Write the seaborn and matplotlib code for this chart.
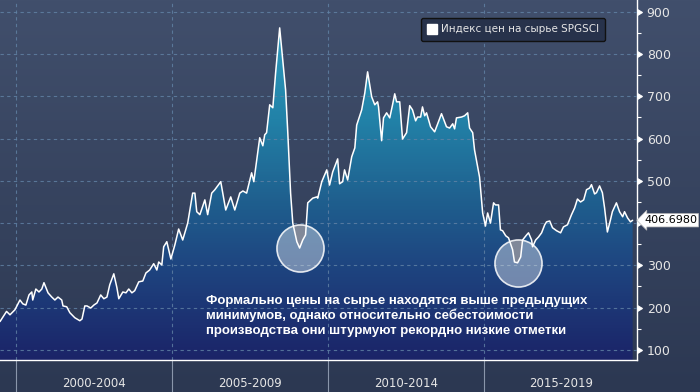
import numpy as np
import pandas as pd
import matplotlib
matplotlib.use("Agg")
import matplotlib.pyplot as plt
import matplotlib.markers as mmarkers
import seaborn as sns
from matplotlib.colors import LinearSegmentedColormap
from matplotlib.lines import Line2D

# SPGSCI index (decimal years)
years = [
    1999.49, 1999.70, 1999.81, 1999.97, 2000.13, 2000.22, 2000.32, 2000.42, 2000.51, 2000.54,
    2000.64, 2000.74, 2000.83, 2000.90, 2001.03, 2001.15, 2001.25, 2001.35, 2001.47, 2001.51,
    2001.63, 2001.73, 2001.89, 2002.05, 2002.12, 2002.21, 2002.28, 2002.40, 2002.50, 2002.60,
    2002.72, 2002.82, 2002.92, 2003.01, 2003.14, 2003.24, 2003.30, 2003.43, 2003.53, 2003.62,
    2003.72, 2003.81, 2003.94, 2004.07, 2004.17, 2004.29, 2004.42, 2004.52, 2004.58, 2004.68,
    2004.74, 2004.84, 2004.97, 2005.10, 2005.22, 2005.35, 2005.51, 2005.67, 2005.74, 2005.80,
    2005.90, 2006.06, 2006.15, 2006.28, 2006.38, 2006.57, 2006.73, 2006.89, 2007.02, 2007.18,
    2007.28, 2007.40, 2007.56, 2007.63, 2007.82, 2007.92, 2007.98, 2008.04, 2008.14, 2008.24,
    2008.33, 2008.46, 2008.56, 2008.65, 2008.72, 2008.81, 2008.88, 2009.01, 2009.10, 2009.20,
    2009.29, 2009.36, 2009.52, 2009.65, 2009.68, 2009.81, 2009.97, 2010.06, 2010.16, 2010.32,
    2010.38, 2010.48, 2010.54, 2010.64, 2010.77, 2010.87, 2010.93, 2011.09, 2011.19, 2011.28,
    2011.41, 2011.51, 2011.60, 2011.63, 2011.73, 2011.79, 2011.89, 2011.99, 2012.08, 2012.15,
    2012.21, 2012.31, 2012.40, 2012.53, 2012.63, 2012.72, 2012.82, 2012.88, 2012.98, 2013.04,
    2013.11, 2013.17, 2013.30, 2013.43, 2013.65, 2013.81, 2013.91, 2014.01, 2014.07, 2014.13,
    2014.29, 2014.39, 2014.49, 2014.55, 2014.65, 2014.71, 2014.87, 2014.97, 2015.06, 2015.13,
    2015.22, 2015.32, 2015.38, 2015.48, 2015.54, 2015.61, 2015.71, 2015.80, 2015.93, 2015.99,
    2016.09, 2016.19, 2016.25, 2016.38, 2016.44, 2016.54, 2016.57, 2016.67, 2016.76, 2016.86,
    2016.96, 2017.02, 2017.12, 2017.21, 2017.34, 2017.47, 2017.56, 2017.69, 2017.82, 2017.92,
    2018.01, 2018.11, 2018.21, 2018.30, 2018.40, 2018.46, 2018.56, 2018.62, 2018.72, 2018.81,
    2018.88, 2018.97, 2019.07, 2019.13, 2019.26, 2019.36, 2019.46, 2019.52, 2019.62, 2019.71,
    2019.78,
]
index_values = [
    167, 191, 183, 195, 218, 209, 206, 230, 237, 218,
    244, 237, 244, 259, 235, 225, 218, 225, 218, 204,
    202, 188, 176, 169, 173, 204, 204, 199, 206, 211,
    230, 221, 225, 254, 280, 247, 221, 237, 235, 244,
    235, 240, 261, 263, 282, 289, 304, 289, 308, 301,
    344, 356, 315, 349, 386, 360, 400, 471, 471, 427,
    420, 455, 420, 471, 479, 498, 431, 462, 431, 471,
    476, 471, 519, 498, 602, 583, 609, 614, 680, 673,
    756, 862, 786, 715, 614, 471, 400, 356, 341, 360,
    372, 448, 459, 462, 459, 498, 526, 490, 521, 552,
    493, 498, 526, 502, 557, 578, 632, 668, 708, 758,
    699, 680, 687, 675, 595, 649, 661, 649, 680, 706,
    687, 687, 599, 614, 678, 668, 642, 651, 651, 675,
    654, 661, 628, 616, 659, 628, 625, 635, 623, 649,
    651, 654, 661, 625, 614, 573, 509, 424, 393, 424,
    400, 448, 443, 443, 384, 382, 370, 365, 337, 308,
    306, 320, 360, 372, 377, 360, 344, 360, 367, 377,
    396, 403, 405, 389, 382, 377, 391, 396, 420, 436,
    457, 450, 455, 479, 483, 491, 469, 472, 488, 472,
    436, 379, 408, 427, 448, 427, 415, 427, 412, 403,
    406.698,
]

period_starts = [2000, 2005, 2010, 2015]
period_labels = ["2000-2004", "2005-2009", "2010-2014", "2015-2019"]
y_ticks = [100, 200, 300, 400, 500, 600, 700, 800, 900]
legend_label = "Индекс цен на сырье SPGSCI"
note_text = ("Формально цены на сырье находятся выше предыдущих\n"
             "минимумов, однако относительно себестоимости\n"
             "производства они штурмуют рекордно низкие отметки")
# windows where the lows are circled
low_windows = [(2008.5, 2010.0), (2015.5, 2016.5)]

df = pd.DataFrame({"year": years, "value": index_values})

sns.set_style("dark")
plt.rcParams["font.family"] = ["DejaVu Sans"]

fig = plt.figure(figsize=(7, 3.92), dpi=100)

# background gradient for whole figure
bg = fig.add_axes([0, 0, 1, 1], zorder=0)
bg_cmap = LinearSegmentedColormap.from_list("bg", ["#414f6c", "#2c3852"])
bg.imshow(np.linspace(0, 1, 256).reshape(-1, 1), aspect="auto", cmap=bg_cmap,
          extent=[0, 1, 0, 1], origin="upper")
bg.axis("off")

ax = fig.add_axes([0, 0.0816, 0.91, 0.9184], zorder=1)
ax.set_facecolor("none")
x0, x1 = 1999.49, 2019.92
y0, y1 = 76, 928

# gradient fill under the curve
poly = ax.fill_between(df["year"], df["value"], y0, color="none", lw=0)
fill_cmap = LinearSegmentedColormap.from_list("fill", [
    (0.0, "#1b2468"), (0.26, "#1e4580"), (0.44, "#1f5f8e"),
    (0.67, "#2282a8"), (1.0, "#34a3c4")])
grad = ax.imshow(np.linspace(y1, y0, 400).reshape(-1, 1), extent=[x0, x1, y0, y1],
                 aspect="auto", cmap=fill_cmap, vmin=y0, vmax=y1, origin="upper", zorder=1)
grad.set_clip_path(poly.get_paths()[0], transform=ax.transData)

sns.lineplot(data=df, x="year", y="value", ax=ax, color="white", lw=1.1,
             legend=False, zorder=3)

ax.set_xlim(x0, x1)
ax.set_ylim(y0, y1)
ax.set_xlabel("")
ax.set_ylabel("")

# grid
ax.set_axisbelow(False)
ax.yaxis.grid(True, ls=(0, (3, 3)), color="#6283a6", lw=0.8, alpha=0.8)
ax.xaxis.grid(False)
for p in period_starts:
    ax.axvline(p, ls=(0, (3, 3)), color="#6283a6", lw=0.8, alpha=0.8, zorder=2.5)
    ax.axvline(p, ymin=-0.09, ymax=0, clip_on=False, color="#8a96ab", lw=0.8)

# spines
for s in ["top", "left"]:
    ax.spines[s].set_visible(False)
for s in ["right", "bottom"]:
    ax.spines[s].set_visible(True)
    ax.spines[s].set_color("white")
    ax.spines[s].set_linewidth(1.0)

# x axis: yearly ticks, period labels in between
ax.set_xticks(range(2000, 2020))
ax.set_xticklabels([])
ax.set_xticks([p + 2.5 for p in period_starts], minor=True)
ax.set_xticklabels(period_labels, minor=True)
ax.tick_params(axis="x", which="major", length=4, width=0.8, color="white", direction="out")
ax.tick_params(axis="x", which="minor", length=0, pad=12, labelsize=8.5, labelcolor="#e6e6e6")

# y axis on the right
ax.yaxis.tick_right()
ax.set_yticks(y_ticks)
ax.set_yticklabels(["" if v == 400 else str(v) for v in y_ticks])  # 400 sits under the value tag
ax.set_yticks([v + 50 for v in y_ticks[:-1]], minor=True)
ax.tick_params(axis="y", which="major", length=4, pad=3, labelsize=9,
               labelcolor="#e6e6e6", color="white")
ax.tick_params(axis="y", which="minor", length=3, width=0.8, color="white")
for t in ax.yaxis.get_major_ticks():
    t.tick2line.set_marker(mmarkers.CARETRIGHTBASE)
    t.tick2line.set_markersize(5)
    t.tick2line.set_color("white")

# last value tag
ax.annotate(f"{index_values[-1]:.4f}", xy=(1, index_values[-1]),
            xycoords=("axes fraction", "data"), xytext=(5, 0), textcoords="offset points",
            va="center", ha="left", fontsize=8, color="black", zorder=10,
            annotation_clip=False,
            bbox=dict(boxstyle="larrow,pad=0.15", fc="white", ec="#bbbbbb", lw=0.5))

# circles around the lows
for a, b in low_windows:
    sub = df[(df["year"] >= a) & (df["year"] <= b)]
    low = sub.loc[sub["value"].idxmin()]
    ax.scatter(low["year"], low["value"], s=1150, facecolors=(1, 1, 1, 0.38),
               edgecolors=(1, 1, 1, 0.85), linewidths=1.2, zorder=4)

# note
ax.text(0.323, 0.181, note_text, transform=ax.transAxes, ha="left", va="top",
        fontsize=9.5, fontweight="bold", color="white", linespacing=1.25,
        family=["Liberation Sans", "DejaVu Sans"], zorder=5)

# legend
handle = Line2D([], [], marker="s", color="white", ls="none", markersize=7)
leg = ax.legend(handles=[handle], labels=[legend_label], loc="upper left",
                bbox_to_anchor=(0.653, 0.964), fontsize=7.5, frameon=True, fancybox=True,
                handlelength=0.8, handletextpad=0.5, borderpad=0.6)
leg.get_frame().set_facecolor("#27324b")
leg.get_frame().set_edgecolor("#111111")
leg.get_frame().set_alpha(1)
for txt in leg.get_texts():
    txt.set_color("#e6e6e6")

fig.savefig("out.png", dpi=100)
